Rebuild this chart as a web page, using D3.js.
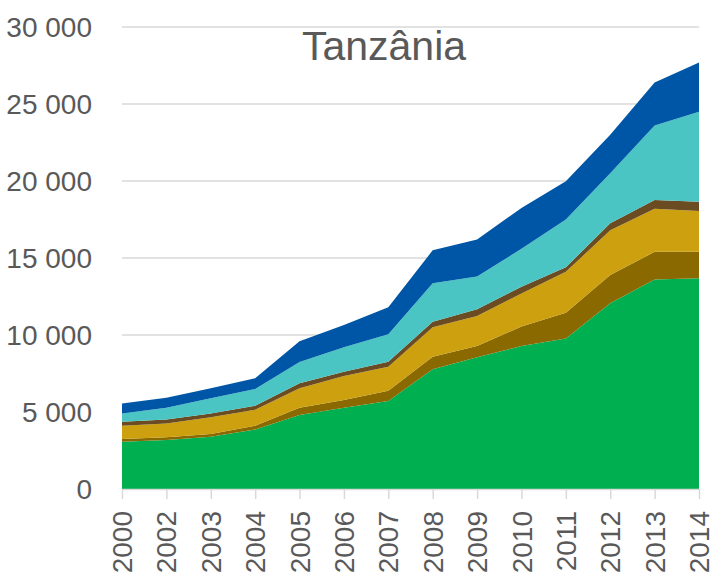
<!DOCTYPE html>
<html>
<head>
<meta charset="utf-8">
<script src="https://cdn.jsdelivr.net/npm/d3@7"></script>
<style>
  body { margin: 0; background: #fff; }
  text { font-family: "Liberation Sans", Arial, sans-serif; fill: #595959; }
</style>
</head>
<body>
<div id="chart"></div>
<script>
var years = ["2000","2002","2003","2004","2005","2006","2007","2008","2009","2010","2011","2012","2013","2014"];
var green = [3070,3180,3400,3870,4800,5280,5710,7770,8550,9290,9780,12060,13600,13680];
var darkBrown = [180,180,170,240,480,500,670,820,740,1260,1670,1840,1800,1720];
var gold = [860,900,1090,1040,1260,1560,1560,1910,1940,2150,2650,2900,2800,2650];
var thinBrown = [260,260,250,260,320,280,330,360,440,440,300,450,570,610];
var teal = [530,760,980,1080,1390,1580,1780,2500,2130,2460,3100,3250,4830,5840];
var blue = [660,650,650,700,1350,1450,1750,2140,2400,2650,2480,2500,2800,3200];
var yTicks = [0,5000,10000,15000,20000,25000,30000];

var keys = ["green","darkBrown","gold","thinBrown","teal","blue"];
var colors = {green:"#00b050", darkBrown:"#8a6a00", gold:"#cca00e", thinBrown:"#6b4c22", teal:"#4bc4c4", blue:"#0056a6"};
var seriesData = {green:green, darkBrown:darkBrown, gold:gold, thinBrown:thinBrown, teal:teal, blue:blue};

var rows = years.map(function(y, i){
  var r = {year: y};
  keys.forEach(function(k){ r[k] = seriesData[k][i]; });
  return r;
});

var width = 718, height = 577;
var plotLeft = 122, plotRight = 699, plotTop = 27, plotBottom = 489;

var svg = d3.select("#chart").append("svg")
  .attr("width", width).attr("height", height);

var x = d3.scalePoint().domain(years).range([plotLeft, plotRight]);
var y = d3.scaleLinear().domain([0, 30000]).range([plotBottom, plotTop]);

// grid
svg.append("g").selectAll("line")
  .data(yTicks.filter(function(d){ return d > 0; }))
  .enter().append("line")
  .attr("x1", plotLeft).attr("x2", plotRight)
  .attr("y1", function(d){ return y(d); }).attr("y2", function(d){ return y(d); })
  .attr("stroke", "#d9d9d9").attr("stroke-width", 1.5);

var stack = d3.stack().keys(keys);
var layers = stack(rows);

var area = d3.area()
  .x(function(d){ return x(d.data.year); })
  .y0(function(d){ return y(d[0]); })
  .y1(function(d){ return y(d[1]); });

svg.append("g").selectAll("path")
  .data(layers)
  .enter().append("path")
  .attr("d", area)
  .attr("fill", function(d){ return colors[d.key]; });

// x axis
var xAxis = svg.append("g")
  .attr("transform", "translate(0," + plotBottom + ")")
  .call(d3.axisBottom(x).tickSize(10).tickSizeOuter(0).tickFormat(""));
xAxis.select(".domain").attr("stroke", "#d9d9d9").attr("stroke-width", 1.5);
xAxis.selectAll(".tick line").attr("stroke", "#d9d9d9").attr("stroke-width", 1.5);

svg.append("g").selectAll("text")
  .data(years)
  .enter().append("text")
  .attr("transform", function(d){ return "translate(" + x(d) + ",511) rotate(-90)"; })
  .attr("text-anchor", "end")
  .attr("dy", "0.36em")
  .style("font-size", "28px")
  .text(function(d){ return d; });

// y labels
svg.append("g").selectAll("text")
  .data(yTicks)
  .enter().append("text")
  .attr("x", 92)
  .attr("y", function(d){ return y(d); })
  .attr("dy", "0.36em")
  .attr("text-anchor", "end")
  .style("font-size", "28px")
  .text(function(d){ return d3.format(",")(d).replace(/,/g, " "); });

svg.append("text")
  .attr("x", 384).attr("y", 60)
  .attr("text-anchor", "middle")
  .style("font-size", "41px")
  .text("Tanzânia");
</script>
</body>
</html>
